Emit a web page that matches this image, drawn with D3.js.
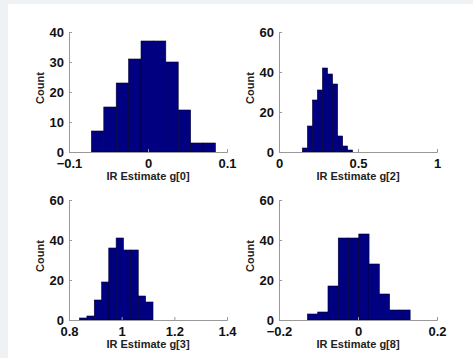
<!DOCTYPE html>
<html>
<head>
<meta charset="utf-8">
<script src="https://cdn.jsdelivr.net/npm/d3@7"></script>
<style>
  html, body { margin: 0; padding: 0; background: #fff; }
  svg { display: block; }
</style>
</head>
<body>
<div id="chart"></div>
<script>
// bin centres and counts
const centers0 = [-0.0638, -0.0481, -0.0324, -0.0167, -0.0010, 0.0147, 0.0304, 0.0461, 0.0618, 0.0775];
const counts0 = [7, 15, 23, 31, 37, 37, 30, 14, 3, 3];

const centers2 = [0.164, 0.196, 0.228, 0.259, 0.291, 0.323, 0.355, 0.387, 0.418, 0.450];
const counts2 = [2, 13, 26, 31, 42, 39, 34, 8, 3, 1];

const centers3 = [0.854, 0.882, 0.910, 0.938, 0.965, 0.993, 1.021, 1.049, 1.077, 1.105];
const counts3 = [1, 2, 10, 19, 36, 41, 35, 35, 12, 9];

const centers8 = [-0.115, -0.089, -0.063, -0.037, -0.011, 0.015, 0.041, 0.067, 0.093, 0.119];
const counts8 = [3, 4, 17, 41, 41, 43, 28, 13, 5, 5];

const xTicks0 = [-0.1, 0, 0.1];
const xTicks2 = [0, 0.5, 1];
const xTicks3 = [0.8, 1, 1.2, 1.4];
const xTicks8 = [-0.2, 0, 0.2];
const yTicks40 = [0, 10, 20, 30, 40];
const yTicks60 = [0, 20, 40, 60];

const labels = ["IR Estimate g[0]", "IR Estimate g[2]", "IR Estimate g[3]", "IR Estimate g[8]"];

const width = 473, height = 358;
const plotW = 158, plotH = 120;

const panels = [
  { left: 69, top: 32, centers: centers0, counts: counts0, xTicks: xTicks0, yTicks: yTicks40, label: labels[0] },
  { left: 279, top: 32, centers: centers2, counts: counts2, xTicks: xTicks2, yTicks: yTicks60, label: labels[1] },
  { left: 69, top: 200, centers: centers3, counts: counts3, xTicks: xTicks3, yTicks: yTicks60, label: labels[2] },
  { left: 279, top: 200, centers: centers8, counts: counts8, xTicks: xTicks8, yTicks: yTicks60, label: labels[3] },
];

const svg = d3.select("#chart")
  .append("svg")
  .attr("width", width)
  .attr("height", height)
  .style("font-family", "'Liberation Sans', Arial, sans-serif");

// slide-like frame strip on the left and top
svg.append("rect").attr("width", width).attr("height", height).attr("fill", "#eef2f4");
svg.append("rect").attr("x", 8).attr("y", 4).attr("width", width - 8).attr("height", height - 4).attr("fill", "#ffffff");

const fmt = (d) => (d < 0 ? "\u2212" + Math.abs(d) : String(d));

panels.forEach((p) => {
  const xDomain = d3.extent(p.xTicks);
  const yDomain = d3.extent(p.yTicks);
  const x = d3.scaleLinear().domain(xDomain).range([0, plotW]);
  const y = d3.scaleLinear().domain(yDomain).range([plotH, 0]);
  const binW = p.centers[1] - p.centers[0];

  const g = svg.append("g").attr("transform", `translate(${p.left},${p.top})`);

  // bars
  g.selectAll("rect.bar")
    .data(p.counts)
    .enter()
    .append("rect")
    .attr("class", "bar")
    .attr("x", (d, i) => x(p.centers[i] - binW / 2))
    .attr("width", (d, i) => x(p.centers[i] + binW / 2) - x(p.centers[i] - binW / 2))
    .attr("y", (d) => y(d))
    .attr("height", (d) => plotH - y(d))
    .attr("fill", "#000080")
    .attr("stroke", "#000030")
    .attr("stroke-width", 0.6);

  // axes
  const xAxis = d3.axisBottom(x).tickValues(p.xTicks).tickSize(-3).tickPadding(7).tickFormat(fmt);
  const yAxis = d3.axisLeft(y).tickValues(p.yTicks).tickSize(-3).tickPadding(5).tickFormat(fmt);

  const gx = g.append("g").attr("transform", `translate(0,${plotH})`).call(xAxis);
  const gy = g.append("g").call(yAxis);

  [gx, gy].forEach((ax) => {
    ax.select(".domain").attr("stroke", "#999").attr("stroke-width", 1);
    ax.selectAll(".tick line").attr("stroke", "#999");
    ax.selectAll("text")
      .attr("fill", "#111")
      .style("font-size", "13px")
      .style("font-weight", "bold");
  });
  gx.selectAll("text").attr("dy", "0.68em");

  // axis labels
  g.append("text")
    .attr("x", plotW / 2)
    .attr("y", plotH + 28)
    .attr("text-anchor", "middle")
    .style("font-size", "11px")
    .style("font-weight", "bold")
    .attr("fill", "#222")
    .text(p.label);

  g.append("text")
    .attr("transform", `translate(-29,${plotH / 2 - 4}) rotate(-90)`)
    .attr("text-anchor", "middle")
    .attr("dy", "0.35em")
    .style("font-size", "11px")
    .style("font-weight", "bold")
    .attr("fill", "#222")
    .text("Count");
});
</script>
</body>
</html>
